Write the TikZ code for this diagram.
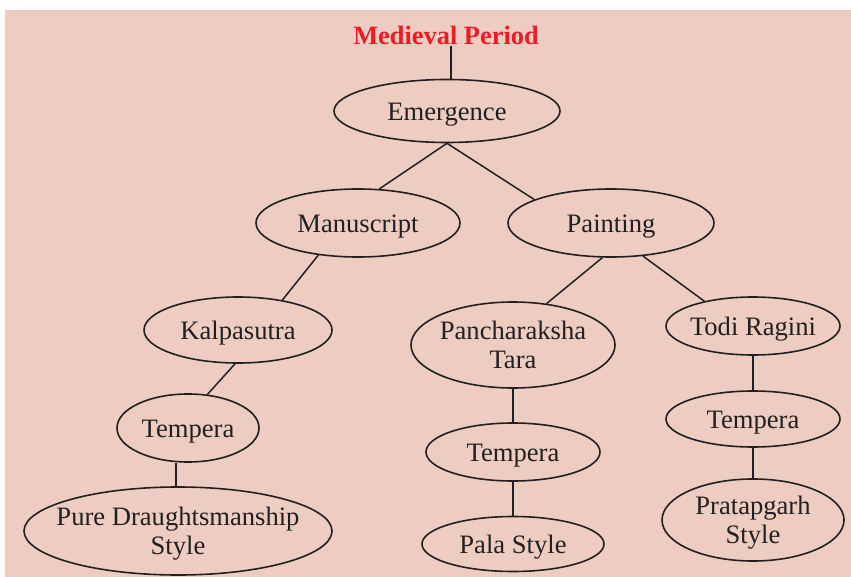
\documentclass[tikz,border=0pt]{standalone}
\usepackage{fontspec}
\setmainfont{Liberation Serif}
\usetikzlibrary{shapes.geometric}
\definecolor{bgpink}{HTML}{EDCDC1}
\definecolor{titlered}{HTML}{ED1C24}
\definecolor{ink}{HTML}{231F20}
\newcommand{\ntxt}[1]{\makebox[0pt][c]{\raisebox{-3.5pt}[\height][\depth]{\begin{tabular}{@{}c@{}}#1\end{tabular}}}}
\tikzset{
  oval/.style={ellipse, draw=ink, line width=1.6pt, inner sep=0pt, text=ink,
    font=\fontsize{26.6}{29}\selectfont},
  link/.style={draw=ink, line width=1.5pt},
  thicklink/.style={draw=ink, line width=2.3pt}
}
\begin{document}
\begin{tikzpicture}[x=1pt,y=-1pt]
\useasboundingbox (0,0) rectangle (851,577);
\fill[bgpink] (5,10) rectangle (851,577);

\node[text=titlered, font=\fontsize{26.4}{29}\selectfont\bfseries, inner sep=2pt] (title) at (446,35) {Medieval Period};

\node[oval, minimum width=226pt, minimum height=63pt] (emerg) at (447,111) {\ntxt{Emergence}};
\node[oval, minimum width=204pt, minimum height=68pt] (manu) at (358,223) {\ntxt{Manuscript}};
\node[oval, minimum width=206pt, minimum height=68pt] (paint) at (611,223) {\ntxt{Painting}};
\node[oval, minimum width=188pt, minimum height=66pt] (kalpa) at (238,330) {\ntxt{Kalpasutra}};
\node[oval, minimum width=142pt, minimum height=68pt] (tempL) at (188,428) {\ntxt{Tempera}};
\node[oval, minimum width=308pt, minimum height=88pt] (pure) at (178,531) {\ntxt{Pure Draughtsmanship\\Style}};
\node[oval, minimum width=204pt, minimum height=86pt] (panch) at (513,345) {\ntxt{Pancharaksha\\Tara}};
\node[oval, minimum width=174pt, minimum height=58pt] (tempM) at (513,452) {\ntxt{Tempera}};
\node[oval, minimum width=182pt, minimum height=55pt] (pala) at (513,544) {\ntxt{Pala Style}};
\node[oval, minimum width=174pt, minimum height=58pt] (todi) at (753,326) {\ntxt{Todi Ragini}};
\node[oval, minimum width=174pt, minimum height=56pt] (tempR) at (753,419) {\ntxt{Tempera}};
\node[oval, minimum width=182pt, minimum height=74pt] (prat) at (753,520) {\ntxt{Pratapgarh\\Style}};

\draw[link] ([xshift=5pt]title.south) -- ([xshift=5pt]title.south |- emerg.north);
\draw[link] (emerg.south) -- (manu.58);
\draw[link] (emerg.south) -- (paint.163);
\draw[link] (manu.219) -- (kalpa.34);
\draw[link] (kalpa.265) -- (tempL.60);
\draw[link] ([xshift=-12pt]tempL.south) -- ([xshift=-12pt]tempL.south |- pure.north);
\draw[link] (paint.256) -- (panch.51);
\draw[link] (paint.314) -- (todi.153);
\draw[thicklink] (panch.south) -- (tempM.north);
\draw[link] (tempM.south) -- (pala.north);
\draw[thicklink] (todi.south) -- (tempR.north);
\draw[thicklink] (tempR.south) -- (prat.north);
\end{tikzpicture}
\end{document}
